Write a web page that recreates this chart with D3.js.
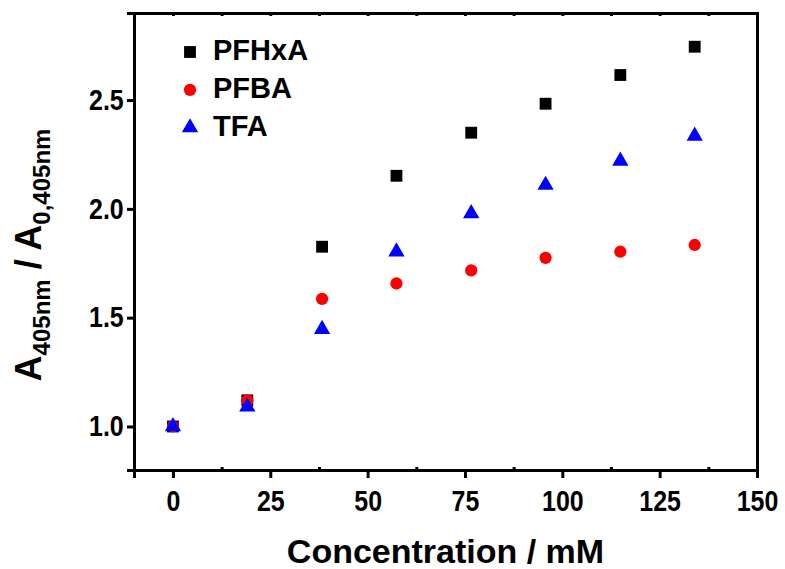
<!DOCTYPE html>
<html lang="en">
<head>
  <meta charset="UTF-8">
  <title>Absorbance ratio vs concentration</title>
  <script src="https://d3js.org/d3.v7.min.js"></script>
  <style>
    body { margin: 0; background: #fff; }
    text { font-family: Arial, "Liberation Sans", sans-serif; font-weight: bold; fill: #000; }
  </style>
</head>
<body>
<div class="main"></div>
<script>

  // data
  var concentration = [0, 19.1, 38.3, 57.4, 76.6, 95.7, 114.9, 134.0];
  var pfhxa = [1.0, 1.12, 1.826, 2.152, 2.350, 2.483, 2.615, 2.745];
  var pfba  = [1.0, 1.12, 1.586, 1.657, 1.717, 1.775, 1.803, 1.834];
  var tfa   = [1.0, 1.09, 1.447, 1.803, 1.979, 2.109, 2.220, 2.335];
  var seriesNames = ["PFHxA", "PFBA", "TFA"];
  var xTicks = [0, 25, 50, 75, 100, 125, 150];
  var yTicks = [1.0, 1.5, 2.0, 2.5];

  let width = 785, height = 569;
  let margin = {left: 134, right: 28, top: 13, bottom: 99};

  let xScale = d3.scaleLinear().domain([-10, 150]).range([margin.left, width - margin.right]);
  let yScale = d3.scaleLinear().domain([0.8, 2.9]).range([height - margin.bottom, margin.top]);

  let svg = d3.select(".main")
          .append("svg")
          .attr("width", width)
          .attr("height", height);

  let series = [
    {name: seriesNames[0], values: pfhxa, shape: d3.symbolSquare, size: 140, color: "#000000"},
    {name: seriesNames[1], values: pfba, shape: d3.symbolCircle, size: 118, color: "#ff0000"},
    {name: seriesNames[2], values: tfa, shape: d3.symbolTriangle, size: 115, color: "#0000ff"}
  ];

  // minor ticks every 12.5 on bottom and top
  let minorTicks = d3.range(0, 151, 12.5).filter(v => xTicks.indexOf(v) < 0);

  let xAxis = d3.axisBottom(xScale).tickValues(xTicks).tickSize(8).tickPadding(12).tickFormat(d3.format("d"));
  let xMinor = d3.axisBottom(xScale).tickValues(minorTicks).tickSize(-3).tickFormat("");
  let yAxis = d3.axisLeft(yScale).tickValues(yTicks).tickSize(7).tickPadding(5).tickFormat(d3.format(".1f"));
  let topAxis = d3.axisTop(xScale).tickValues(xTicks.concat(minorTicks)).tickSize(-3).tickFormat("");
  let rightAxis = d3.axisRight(yScale).tickValues([]).tickSize(0);

  function draw(axis, translate, cls){
    let g = svg.append("g")
            .attr("transform", translate)
            .attr("class", cls)
            .call(axis);
    g.select(".domain").style("stroke-width", 3).attr("stroke", "#000");
    g.selectAll(".tick line").style("stroke-width", 3).attr("stroke", "#000");
    // tick labels in the original are a bit condensed
    g.selectAll(".tick text")
            .style("font-size", "29px")
            .attr("transform", "scale(0.86, 1)");
    return g;
  }

  draw(xMinor, `translate(0, ${height - margin.bottom})`, "xminor").select(".domain").remove();
  draw(topAxis, `translate(0, ${margin.top})`, "xtop");
  draw(rightAxis, `translate(${width - margin.right}, 0)`, "yright");
  draw(xAxis, `translate(0, ${height - margin.bottom})`, "xaxis");
  draw(yAxis, `translate(${margin.left}, 0)`, "yaxis");

  // points
  series.forEach(function(s){
    svg.append("g")
            .selectAll("path")
            .data(s.values)
            .join("path")
            .attr("d", d3.symbol().type(s.shape).size(s.size))
            .attr("transform", (d, i) => `translate(${xScale(concentration[i])}, ${yScale(d)})`)
            .style("fill", s.color);
  });

  // legend
  let legend = svg.append("g").attr("transform", "translate(190, 52)");
  series.forEach(function(s, i){
    legend.append("path")
            .attr("d", d3.symbol().type(s.shape).size(s.size))
            .attr("transform", `translate(0, ${i * 37.8})`)
            .style("fill", s.color);
    legend.append("text")
            .attr("x", 23).attr("y", i * 37.8 + 8)
            .style("font-size", "29px")
            .text(s.name);
  });

  // axis titles
  svg.append("text")
          .attr("x", xScale(70)).attr("y", 563)
          .attr("text-anchor", "middle")
          .style("font-size", "34px")
          .text("Concentration / mM");

  let yTitle = svg.append("text")
          .attr("transform", "translate(41, 255) rotate(-90)")
          .attr("text-anchor", "middle")
          .style("font-size", "36px");
  yTitle.append("tspan").text("A");
  yTitle.append("tspan").attr("dy", 9).style("font-size", "24px").text("405nm");
  yTitle.append("tspan").attr("dy", -9).text(" / A");
  yTitle.append("tspan").attr("dy", 9).style("font-size", "24px").text("0,405nm");

</script>
</body>
</html>
